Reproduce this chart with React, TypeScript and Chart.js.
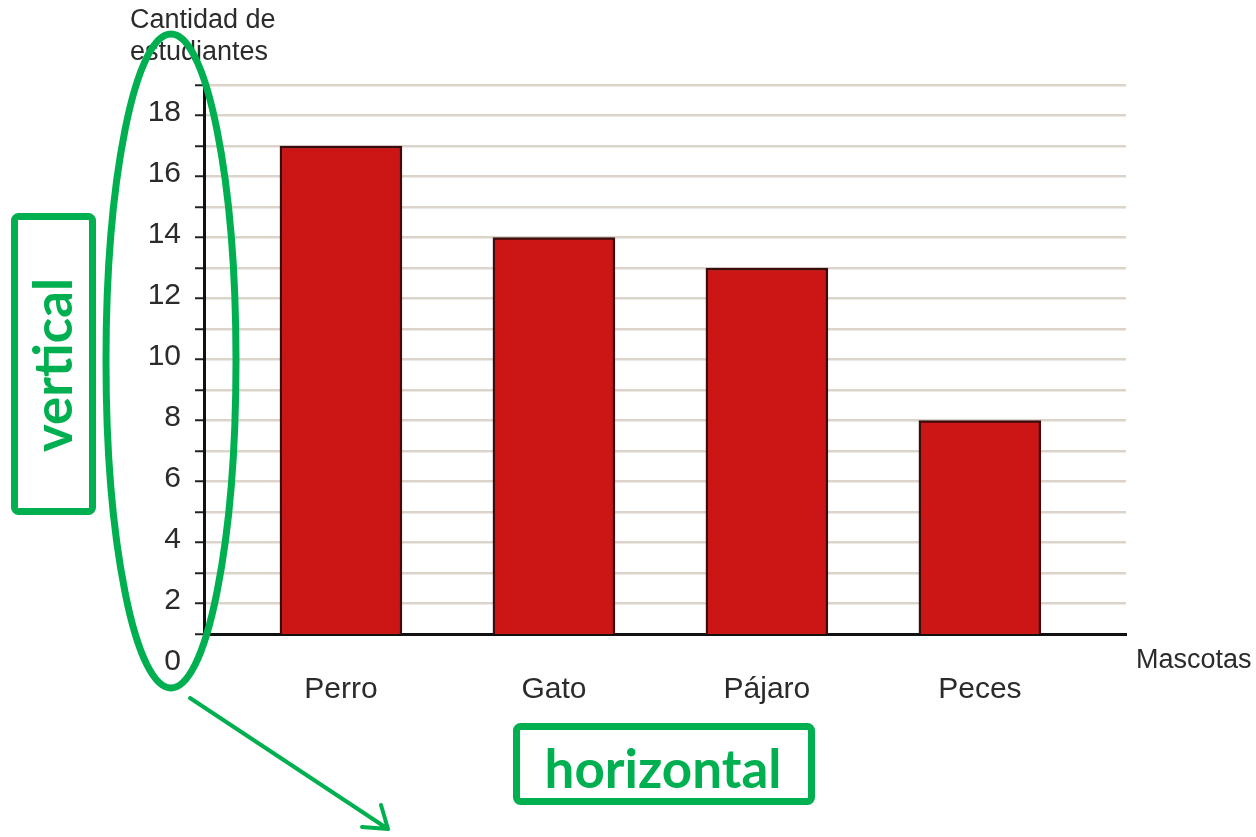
import React, { useEffect, useRef } from 'react';
import { Chart, registerables } from 'chart.js';

Chart.register(...registerables);

// ---- data ----
const categories = ['Perro', 'Gato', 'Pájaro', 'Peces'];
const students = [17, 14, 13, 8];
const yTickValues = [0, 1, 2, 3, 4, 5, 6, 7, 8, 9, 10, 11, 12, 13, 14, 15, 16, 17, 18, 19];
const yAxisTitleLines = ['Cantidad de', 'estudiantes'];
const xAxisTitle = 'Mascotas';
const verticalNote = 'vertical';
const horizontalNote = 'horizontal';

const FONT = '"Liberation Sans", Arial, Helvetica, sans-serif';
const NOTE_FONT = 'Lato, "Open Sans", "Liberation Sans", sans-serif';
const GREEN = '#00b050';
const TEXT = '#2b2b2b';

function fitBoldFont(ctx: CanvasRenderingContext2D, text: string, targetWidth: number) {
  ctx.font = `bold 50px ${NOTE_FONT}`;
  const w = ctx.measureText(text).width || 1;
  const size = (50 * targetWidth) / w;
  ctx.font = `bold ${size}px ${NOTE_FONT}`;
}

const overlayPlugin = {
  id: 'overlay',
  afterDraw(chart: any) {
    const ctx: CanvasRenderingContext2D = chart.ctx;
    ctx.save();
    // axis titles
    ctx.fillStyle = TEXT;
    ctx.font = `27px ${FONT}`;
    ctx.textAlign = 'left';
    ctx.textBaseline = 'middle';
    ctx.fillText(yAxisTitleLines[0], 130, 21);
    ctx.fillText(yAxisTitleLines[1], 130, 53);
    ctx.fillText(xAxisTitle, 1136, 661);

    // green annotations
    ctx.strokeStyle = GREEN;
    ctx.fillStyle = GREEN;
    ctx.lineWidth = 7;
    ctx.beginPath();
    ctx.ellipse(171, 361, 65, 327, 0, 0, Math.PI * 2);
    ctx.stroke();

    ctx.lineJoin = 'round';
    ctx.beginPath();
    (ctx as any).roundRect(14.5, 216.5, 78, 295, 4);
    ctx.stroke();

    ctx.beginPath();
    (ctx as any).roundRect(516.5, 726.5, 295, 75, 4);
    ctx.stroke();

    // vertical text
    ctx.save();
    ctx.translate(72, 365);
    ctx.rotate(-Math.PI / 2);
    fitBoldFont(ctx, verticalNote, 174);
    ctx.textAlign = 'center';
    ctx.textBaseline = 'alphabetic';
    ctx.fillText(verticalNote, 0, 0);
    ctx.restore();

    // horizontal text
    fitBoldFont(ctx, horizontalNote, 237);
    ctx.textAlign = 'center';
    ctx.textBaseline = 'alphabetic';
    ctx.fillText(horizontalNote, 663, 788);

    // arrow
    ctx.lineWidth = 4;
    ctx.lineCap = 'round';
    ctx.beginPath();
    ctx.moveTo(190, 698);
    ctx.lineTo(388, 829);
    ctx.moveTo(388, 829);
    ctx.lineTo(362, 827);
    ctx.moveTo(388, 829);
    ctx.lineTo(381, 805);
    ctx.stroke();

    ctx.restore();
  },
};

export default function App() {
  const canvasRef = useRef<HTMLCanvasElement | null>(null);

  useEffect(() => {
    document.body.style.margin = '0';
    const canvas = canvasRef.current;
    if (!canvas) return;
    const transparent = 'rgba(0,0,0,0)';
    const chart = new Chart(canvas, {
      type: 'bar',
      data: {
        datasets: [
          {
            label: 'Cantidad de estudiantes',
            data: students.map((v, i) => ({ x: i, y: v })),
            backgroundColor: '#cc1616',
            borderColor: '#3a0c0c',
            borderWidth: 2.5,
            barThickness: 122,
          } as any,
        ],
      },
      options: {
        responsive: false,
        animation: false,
        devicePixelRatio: 1,
        layout: { padding: { left: 144, top: 85, right: 130, bottom: 103 } },
        plugins: { legend: { display: false }, tooltip: { enabled: false } },
        scales: {
          x: {
            type: 'linear',
            offset: false,
            min: -0.643,
            max: 3.686,
            afterBuildTicks: (s: any) => {
              s.ticks = categories.map((_, i) => ({ value: i }));
            },
            afterFit: (s: any) => {
              s.height = 100;
            },
            grid: { display: false, drawTicks: false, offset: false },
            border: { display: true, color: '#111', width: 3 },
            ticks: {
              autoSkip: false,
              maxRotation: 0,
              padding: 38,
              color: TEXT,
              font: { family: FONT, size: 30 },
              callback: (v: any) => categories[Number(v)] ?? '',
            },
          },
          y: {
            type: 'linear',
            min: 1,
            max: 19,
            afterBuildTicks: (s: any) => {
              s.ticks = yTickValues.map((v) => ({ value: v }));
            },
            afterFit: (s: any) => {
              s.width = 60;
            },
            border: { display: true, color: '#111', width: 3 },
            grid: {
              color: (c: any) =>
                c.tick && (c.tick.value === 0 || c.tick.value === 1) ? transparent : '#dcd4ca',
              lineWidth: 2.5,
              drawTicks: true,
              tickLength: 9,
              tickWidth: 2,
              tickColor: (c: any) => (c.tick && c.tick.value === 0 ? transparent : '#222'),
            },
            ticks: {
              autoSkip: false,
              padding: 14,
              labelOffset: -3,
              color: TEXT,
              font: { family: FONT, size: 30 },
              callback: (v: any) => (Number(v) % 2 === 0 ? String(v) : ''),
            },
          },
        },
      } as any,
      plugins: [overlayPlugin],
    });
    return () => chart.destroy();
  }, []);

  return (
    <div style={{ width: 1256, height: 837, background: '#fff' }}>
      <canvas ref={canvasRef} width={1256} height={837} style={{ display: 'block' }} />
    </div>
  );
}
